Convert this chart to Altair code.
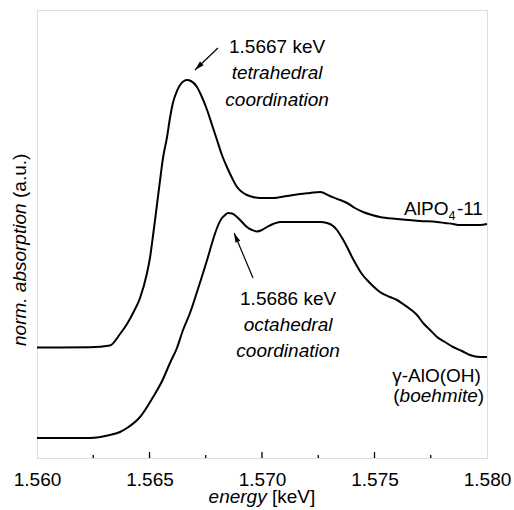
import altair as alt
import pandas as pd

# ---- data ----
energy_alpo = [1.56000, 1.56102, 1.56236, 1.56324, 1.56369, 1.56400, 1.56427, 1.56458,
               1.56489, 1.56502, 1.56516, 1.56533, 1.56547, 1.56560, 1.56578, 1.56591,
               1.56604, 1.56622, 1.56636, 1.56653, 1.56667, 1.56684, 1.56711, 1.56733,
               1.56756, 1.56778, 1.56800, 1.56822, 1.56844, 1.56867, 1.56889, 1.56911,
               1.56933, 1.56960, 1.56991, 1.57049, 1.57111, 1.57169, 1.57213, 1.57258,
               1.57302, 1.57347, 1.57378, 1.57413, 1.57449, 1.57489, 1.57524, 1.57600,
               1.57702, 1.57778, 1.57813, 1.57849, 1.57880, 1.57924, 1.57969, 1.58000]
absorb_alpo = [1.105, 1.105, 1.107, 1.125, 1.24, 1.34, 1.45, 1.60,
               1.85, 2.00, 2.23, 2.53, 2.78, 3.00, 3.21, 3.40,
               3.55, 3.67, 3.73, 3.77, 3.78, 3.77, 3.71, 3.61,
               3.48, 3.33, 3.18, 3.03, 2.91, 2.80, 2.71, 2.66,
               2.63, 2.61, 2.60, 2.60, 2.62, 2.64, 2.65, 2.66,
               2.62, 2.58, 2.55, 2.50, 2.46, 2.43, 2.41, 2.39,
               2.37, 2.36, 2.35, 2.34, 2.33, 2.33, 2.33, 2.34]

energy_boeh = [1.56000, 1.56102, 1.56236, 1.56324, 1.56369, 1.56400, 1.56458, 1.56516,
               1.56556, 1.56591, 1.56622, 1.56649, 1.56680, 1.56711, 1.56738, 1.56756,
               1.56782, 1.56800, 1.56822, 1.56836, 1.56849, 1.56867, 1.56889, 1.56911,
               1.56933, 1.56956, 1.56978, 1.57000, 1.57022, 1.57049, 1.57080, 1.57169,
               1.57258, 1.57289, 1.57316, 1.57333, 1.57356, 1.57378, 1.57400, 1.57422,
               1.57444, 1.57467, 1.57493, 1.57524, 1.57569, 1.57600, 1.57627, 1.57658,
               1.57689, 1.57716, 1.57747, 1.57778, 1.57813, 1.57849, 1.57889, 1.57924,
               1.57969, 1.58000]
absorb_boeh = [0.20, 0.20, 0.20, 0.23, 0.26, 0.30, 0.41, 0.61,
               0.77, 0.95, 1.10, 1.28, 1.45, 1.66, 1.85, 1.98,
               2.18, 2.30, 2.40, 2.43, 2.45, 2.445, 2.41, 2.36,
               2.31, 2.28, 2.265, 2.28, 2.31, 2.34, 2.36, 2.36,
               2.36, 2.35, 2.32, 2.28, 2.20, 2.11, 2.01, 1.92,
               1.84, 1.78, 1.72, 1.66, 1.61, 1.58, 1.54, 1.49,
               1.43, 1.35, 1.28, 1.21, 1.16, 1.11, 1.07, 1.03,
               1.01, 1.01]

tick_values = [1.560, 1.565, 1.570, 1.575, 1.580]
major_ticks = [1.565, 1.570, 1.575]
minor_ticks = [1.5625, 1.5675, 1.5725, 1.5775]

FONT = "Liberation Sans"
FS = 19
W, H = 450, 448

xscale = alt.Scale(domain=[1.560, 1.580], nice=False, zero=False)
yscale = alt.Scale(domain=[0, 4.48], nice=False, zero=False)

curves = pd.DataFrame({
    "energy": energy_alpo + energy_boeh,
    "absorption": absorb_alpo + absorb_boeh,
    "sample": ["AlPO4-11"] * len(energy_alpo) + ["boehmite"] * len(energy_boeh),
})

lines = alt.Chart(curves).mark_line(color="black", strokeWidth=2, interpolate="monotone").encode(
    x=alt.X("energy:Q", scale=xscale,
            axis=alt.Axis(values=tick_values, format=".3f", title=None, grid=False,
                          domain=False, ticks=False, tickSize=0, labelPadding=12,
                          labelFlush=False, labelOverlap=False, labelFont=FONT,
                          labelFontSize=FS, labelColor="black")),
    y=alt.Y("absorption:Q", scale=yscale, axis=None),
    detail="sample:N",
)

major = alt.Chart(pd.DataFrame({"t": major_ticks})).mark_rule(color="black", strokeWidth=1.3).encode(
    x=alt.X("t:Q", scale=xscale), y=alt.value(H), y2=alt.value(H - 6))
minor = alt.Chart(pd.DataFrame({"t": minor_ticks})).mark_rule(color="black", strokeWidth=1.3).encode(
    x=alt.X("t:Q", scale=xscale), y=alt.value(H), y2=alt.value(H - 3))


def label(x, y, text, align="center", italic=False, size=FS, dx=0, dy=0):
    return alt.Chart(pd.DataFrame({"x": [x], "y": [y], "t": [text]})).mark_text(
        align=align, baseline="alphabetic", font=FONT, fontSize=size,
        fontStyle="italic" if italic else "normal", color="black", dx=dx, dy=dy,
    ).encode(x=alt.X("x:Q", scale=xscale), y=alt.Y("y:Q", scale=yscale), text="t:N")


def pix_label(px, py, text, align="left", italic=False, angle=0):
    kw = dict(align=align, baseline="alphabetic", font=FONT, fontSize=FS,
              fontStyle="italic" if italic else "normal", color="black")
    if angle:
        kw["angle"] = angle
    return alt.Chart(pd.DataFrame({"t": [text]})).mark_text(**kw).encode(
        x=alt.value(px), y=alt.value(py), text="t:N")


# annotation positions (data coordinates)
peak_tet_x, peak_oct_x = 1.57067, 1.57116
texts = [
    label(peak_tet_x, 4.05, "1.5667 keV"),
    label(peak_tet_x, 3.79, "tetrahedral", italic=True),
    label(peak_tet_x, 3.52, "coordination", italic=True),
    label(peak_oct_x, 1.53, "1.5686 keV"),
    label(peak_oct_x, 1.27, "octahedral", italic=True),
    label(peak_oct_x, 1.01, "coordination", italic=True),
    # AlPO4-11 with subscript
    label(1.57982, 2.43, "-11", align="right"),
    label(1.57982, 2.43, "4", align="right", size=12, dx=-27.5, dy=5),
    label(1.57982, 2.43, "AlPO", align="right", dx=-34.5),
    # gamma-AlO(OH) (boehmite)
    label(1.57973, 0.765, "γ-AlO(OH)", align="right"),
    label(1.57987, 0.56, ")", align="right"),
    label(1.57987, 0.56, "boehmite", align="right", italic=True, dx=-6.3),
    label(1.57987, 0.56, "(", align="right", dx=-84.4),
]

arrows = pd.DataFrame({
    "x": [1.56804, 1.56960], "y": [4.10, 1.80],
    "x2": [1.56702, 1.56876], "y2": [3.88, 2.25],
    "angle": [226, 337],
})
shafts = alt.Chart(arrows).mark_rule(color="black", strokeWidth=1.2).encode(
    x=alt.X("x:Q", scale=xscale), y=alt.Y("y:Q", scale=yscale), x2="x2:Q", y2="y2:Q")
heads = alt.Chart(arrows).mark_point(
    shape="M0,0L0.55,2L-0.55,2Z", filled=True, fill="black", strokeWidth=0, opacity=1, size=90,
).encode(x=alt.X("x2:Q", scale=xscale), y=alt.Y("y2:Q", scale=yscale),
         angle=alt.Angle("angle:Q", scale=None))

# axis titles with mixed styles
titles = [
    pix_label(229.7, 493, "energy", align="right", italic=True),
    pix_label(235.0, 493, "[keV]", align="left"),
    pix_label(-11, 336, "norm. absorption", align="left", italic=True, angle=270),
    pix_label(-11, 188, "(a.u.)", align="left", angle=270),
]

chart = alt.layer(lines, major, minor, shafts, heads, *texts, *titles).properties(
    width=W, height=H,
    padding={"left": 37, "top": 10, "right": 27, "bottom": 52},
    autosize="none",
).configure_view(stroke="black", strokeWidth=1.6).configure(background="white")

chart.save("out.html", embed_options={"renderer": "svg", "actions": False})
